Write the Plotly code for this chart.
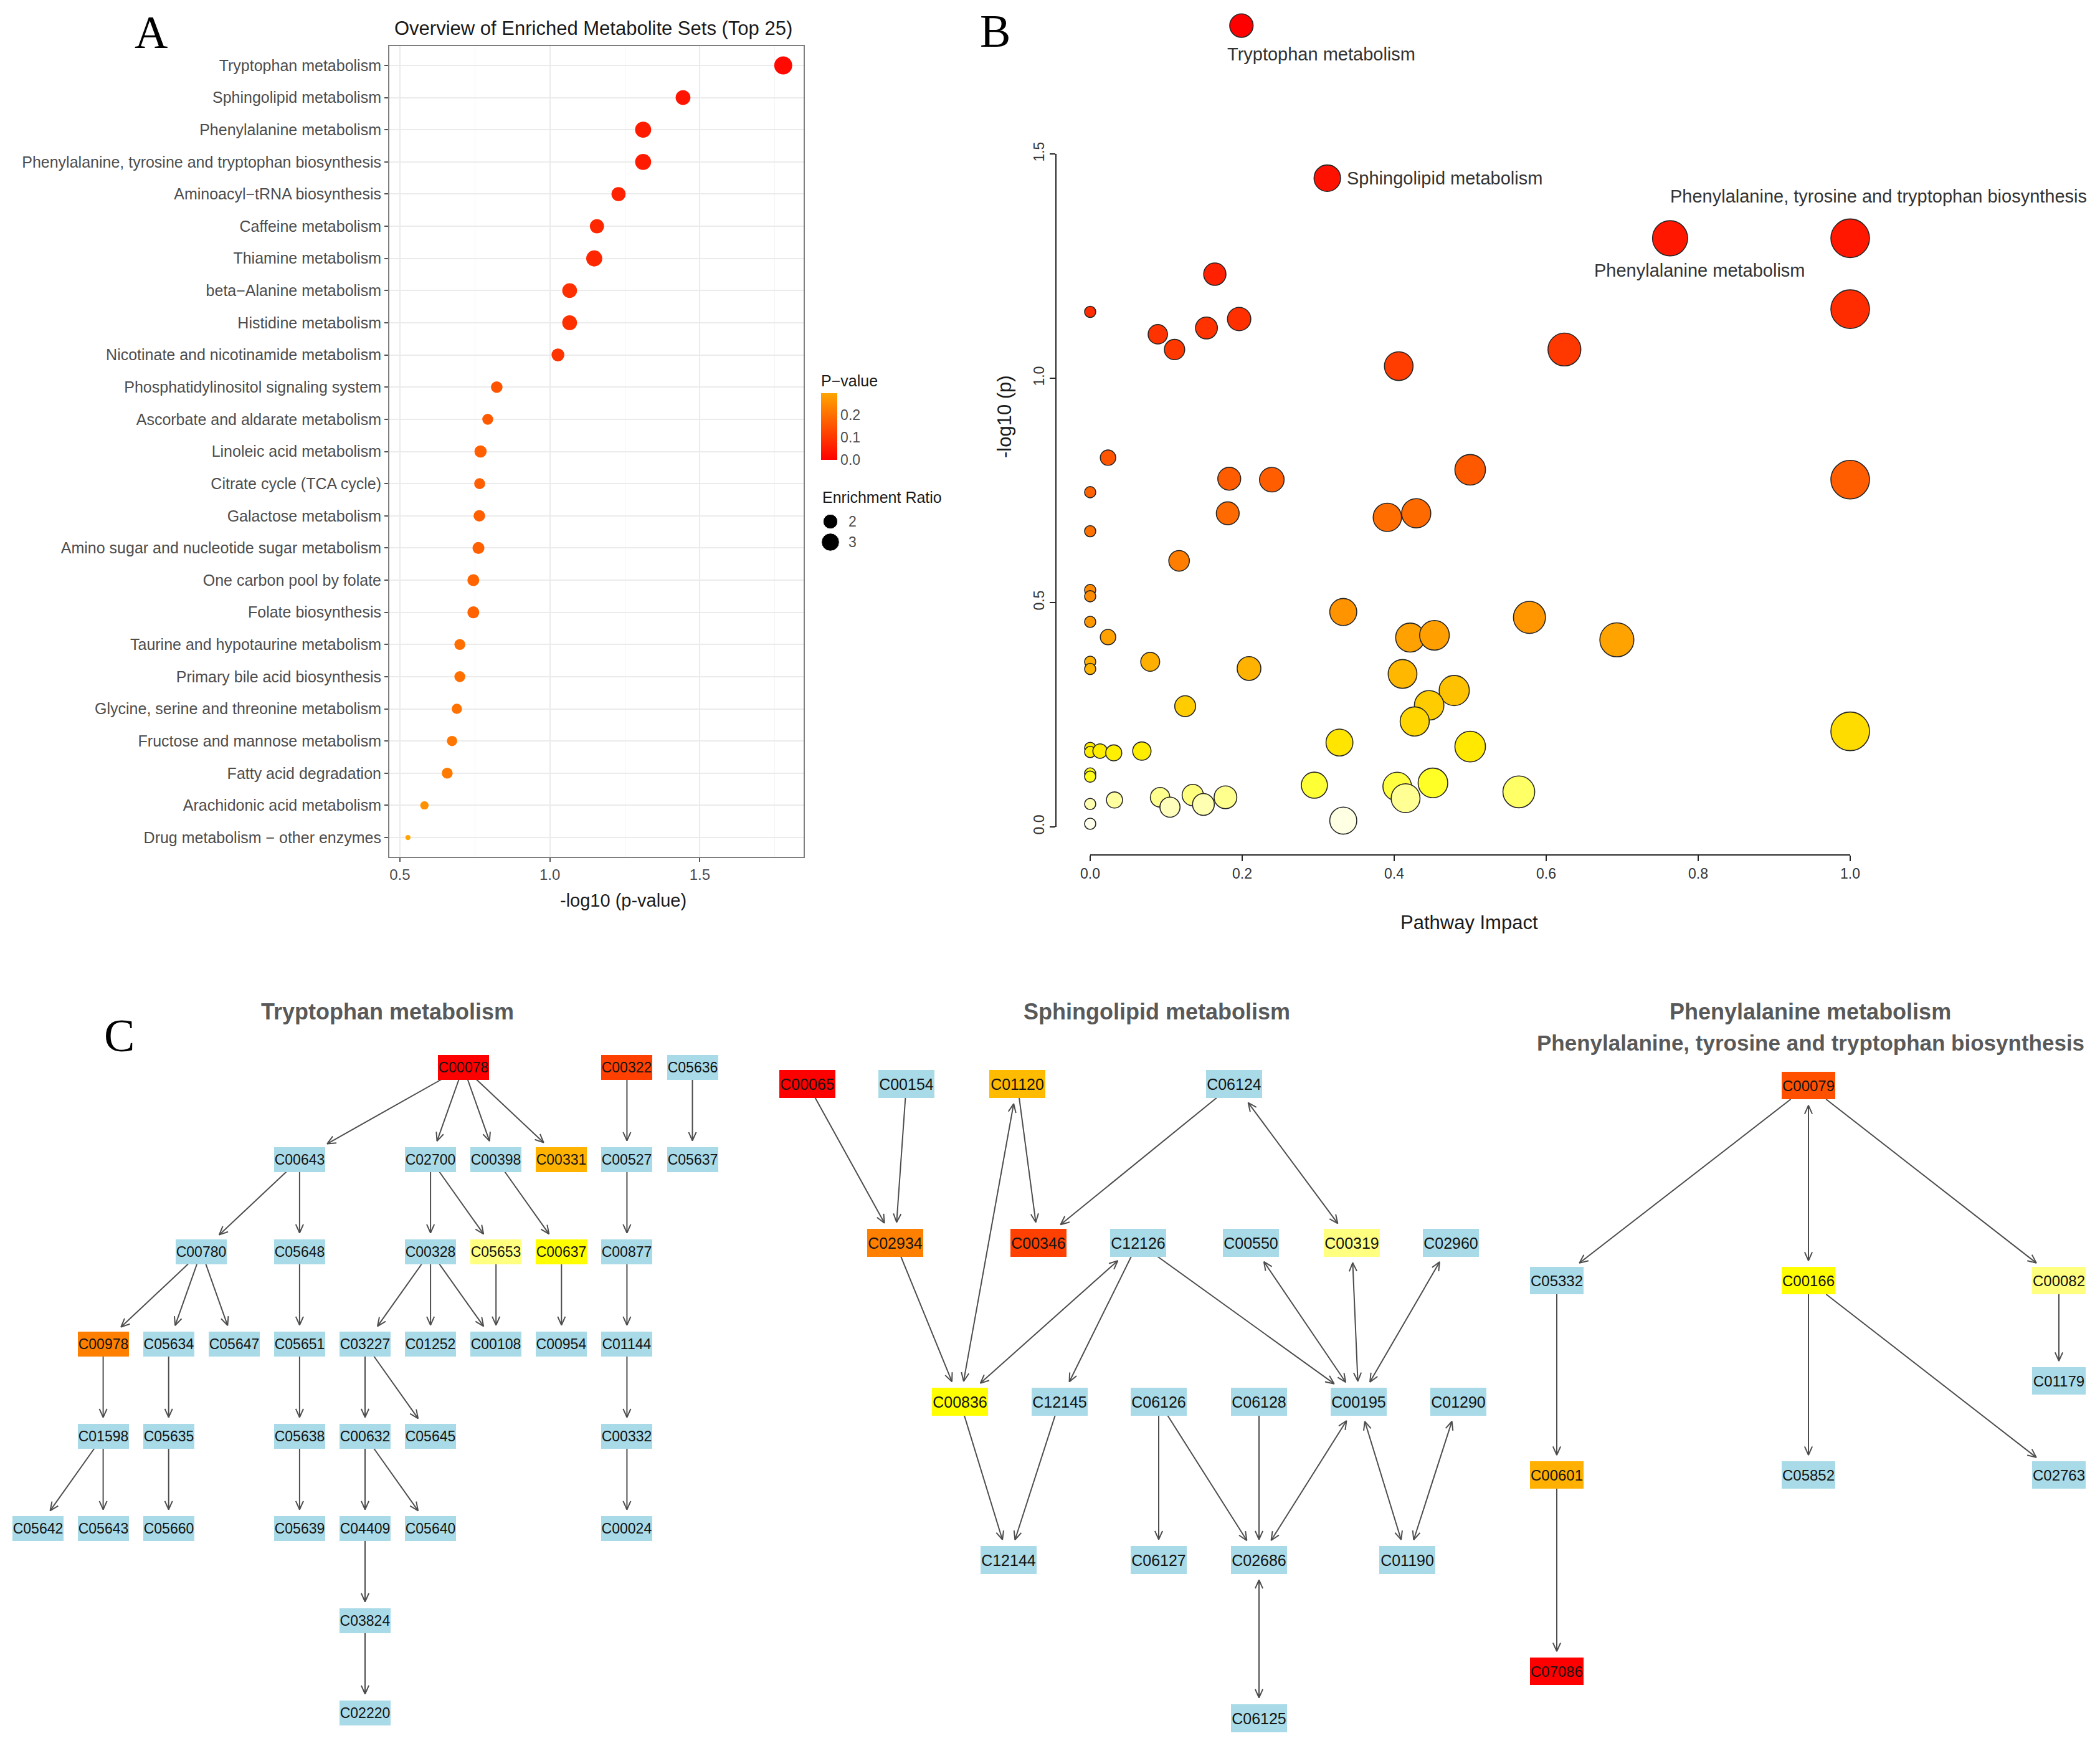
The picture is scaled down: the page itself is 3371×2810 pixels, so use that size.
import math
import plotly.graph_objects as go

W, H = 3371, 2810

# ---------------- Panel A data (enrichment overview) ----------------
setA_names = [
    "Tryptophan metabolism", "Sphingolipid metabolism", "Phenylalanine metabolism",
    "Phenylalanine, tyrosine and tryptophan biosynthesis", "Aminoacyl\u2212tRNA biosynthesis",
    "Caffeine metabolism", "Thiamine metabolism", "beta\u2212Alanine metabolism",
    "Histidine metabolism", "Nicotinate and nicotinamide metabolism",
    "Phosphatidylinositol signaling system", "Ascorbate and aldarate metabolism",
    "Linoleic acid metabolism", "Citrate cycle (TCA cycle)", "Galactose metabolism",
    "Amino sugar and nucleotide sugar metabolism", "One carbon pool by folate",
    "Folate biosynthesis", "Taurine and hypotaurine metabolism",
    "Primary bile acid biosynthesis", "Glycine, serine and threonine metabolism",
    "Fructose and mannose metabolism", "Fatty acid degradation",
    "Arachidonic acid metabolism", "Drug metabolism \u2212 other enzymes"]
setA_neglog10p = [1.778, 1.444, 1.311, 1.311, 1.229, 1.157, 1.148, 1.066, 1.066, 1.027,
                  0.823, 0.793, 0.769, 0.766, 0.765, 0.762, 0.745, 0.745, 0.700, 0.700,
                  0.690, 0.674, 0.658, 0.582, 0.527]
setA_ratio = [3.06, 2.07, 2.44, 2.44, 1.89, 1.89, 2.44, 2.07, 2.07, 1.56,
              1.27, 1.13, 1.41, 1.13, 1.27, 1.34, 1.34, 1.34, 1.13, 1.13,
              1.00, 1.00, 1.13, 0.66, 0.25]
setA_pvalue = [10 ** (-v) for v in setA_neglog10p]
legend_ratios = [2, 3]
pvalue_ticks = [0.0, 0.1, 0.2]

# ---------------- Panel B data (pathway impact) ----------------
pathB_impact = [0.199, 0.312, 0.763, 1.0, 0.164, 0.0, 0.089, 0.111, 0.153, 0.196, 0.406, 0.624, 1.0,
                0.0235, 0.183, 0.239, 0.5, 1.0, 0.0, 0.181, 0.391, 0.429, 0.0, 0.117, 0.0, 0.0,
                0.333, 0.578, 0.0, 0.0235, 0.421, 0.453, 0.693, 0.0, 0.0, 0.079, 0.209, 0.411,
                0.479, 0.125, 0.446, 0.427, 1.0, 0.328, 0.5, 0.0, 0.0, 0.013, 0.031, 0.068,
                0.0, 0.0, 0.295, 0.404, 0.451, 0.415, 0.564, 0.032, 0.092, 0.105, 0.135, 0.149,
                0.178, 0.0, 0.0, 0.333]
pathB_neglog10p = [1.786, 1.446, 1.312, 1.312, 1.232, 1.148, 1.098, 1.064, 1.112, 1.132, 1.027, 1.064, 1.154,
                   0.823, 0.776, 0.774, 0.796, 0.774, 0.746, 0.699, 0.690, 0.699, 0.659, 0.593, 0.528, 0.514,
                   0.479, 0.467, 0.457, 0.423, 0.422, 0.427, 0.417, 0.368, 0.352, 0.368, 0.353, 0.341,
                   0.304, 0.269, 0.271, 0.235, 0.213, 0.188, 0.179, 0.176, 0.167, 0.169, 0.165, 0.169,
                   0.119, 0.112, 0.093, 0.090, 0.098, 0.064, 0.078, 0.060, 0.066, 0.044, 0.071, 0.050,
                   0.066, 0.051, 0.007, 0.014]
pathB_labels = {0: "Tryptophan metabolism", 1: "Sphingolipid metabolism",
                2: "Phenylalanine metabolism", 3: "Phenylalanine, tyrosine and tryptophan biosynthesis"}
pathB_xticks = [0.0, 0.2, 0.4, 0.6, 0.8, 1.0]
pathB_yticks = [0.0, 0.5, 1.0, 1.5]

# ---------------- Panel C data (networks) ----------------
trp_edges = [("C00078", "C00643", 0), ("C00078", "C02700", 0), ("C00078", "C00398", 0),
             ("C00078", "C00331", 0), ("C00322", "C00527", 0), ("C05636", "C05637", 0),
             ("C00643", "C00780", 0), ("C00643", "C05648", 0), ("C02700", "C00328", 0),
             ("C02700", "C05653", 0), ("C00398", "C00637", 0), ("C00527", "C00877", 0),
             ("C00780", "C00978", 0), ("C00780", "C05634", 0), ("C00780", "C05647", 0),
             ("C05648", "C05651", 0), ("C00328", "C03227", 0), ("C00328", "C01252", 0),
             ("C00328", "C00108", 0), ("C05653", "C00108", 0), ("C00637", "C00954", 0),
             ("C00877", "C01144", 0), ("C00978", "C01598", 0), ("C05634", "C05635", 0),
             ("C05651", "C05638", 0), ("C03227", "C00632", 0), ("C03227", "C05645", 0),
             ("C01144", "C00332", 0), ("C01598", "C05642", 0), ("C01598", "C05643", 0),
             ("C05635", "C05660", 0), ("C05638", "C05639", 0), ("C00632", "C04409", 0),
             ("C00632", "C05640", 0), ("C00332", "C00024", 0), ("C04409", "C03824", 0),
             ("C03824", "C02220", 0)]
sph_edges = [("C00065", "C02934", 0), ("C00154", "C02934", 0), ("C01120", "C00346", 0),
             ("C00836", "C01120", 1), ("C06124", "C00346", 0), ("C06124", "C00319", 1),
             ("C12126", "C00836", 1), ("C12126", "C12145", 0), ("C12126", "C00195", 0),
             ("C00550", "C00195", 1), ("C00319", "C00195", 1), ("C02960", "C00195", 1),
             ("C02934", "C00836", 0), ("C00836", "C12144", 0), ("C12145", "C12144", 0),
             ("C06126", "C06127", 0), ("C06126", "C02686", 0), ("C06128", "C02686", 0),
             ("C00195", "C02686", 1), ("C00195", "C01190", 1), ("C01290", "C01190", 1),
             ("C02686", "C06125", 1)]
phe_edges = [("C00079", "C05332", 0), ("C00079", "C00166", 1), ("C00079", "C00082", 0),
             ("C05332", "C00601", 0), ("C00601", "C07086", 0), ("C00166", "C05852", 0),
             ("C00166", "C02763", 0), ("C00082", "C01179", 0)]
hit_fill = {"C00078": "#FF0000", "C00322": "#FF4000", "C00331": "#FFB300", "C05653": "#FFFF80",
            "C00637": "#FFFF00", "C00978": "#FF7F00",
            "C00065": "#FF0000", "C01120": "#FFBB00", "C02934": "#FF7F00", "C00346": "#FF4000",
            "C00319": "#FFFF80", "C00836": "#FFFF00",
            "C00079": "#FF5000", "C00166": "#FFFF00", "C00082": "#FFFF80", "C00601": "#FFB000",
            "C07086": "#FF0000"}

# ---------------- layout (positions in page pixels) ----------------
trp_grid = {"C00078": (6.5, 0), "C00322": (9, 0), "C05636": (10, 0),
            "C00643": (4, 1), "C02700": (6, 1), "C00398": (7, 1), "C00331": (8, 1), "C00527": (9, 1), "C05637": (10, 1),
            "C00780": (2.5, 2), "C05648": (4, 2), "C00328": (6, 2), "C05653": (7, 2), "C00637": (8, 2), "C00877": (9, 2),
            "C00978": (1, 3), "C05634": (2, 3), "C05647": (3, 3), "C05651": (4, 3), "C03227": (5, 3), "C01252": (6, 3),
            "C00108": (7, 3), "C00954": (8, 3), "C01144": (9, 3),
            "C01598": (1, 4), "C05635": (2, 4), "C05638": (4, 4), "C00632": (5, 4), "C05645": (6, 4), "C00332": (9, 4),
            "C05642": (0, 5), "C05643": (1, 5), "C05660": (2, 5), "C05639": (4, 5), "C04409": (5, 5), "C05640": (6, 5),
            "C00024": (9, 5), "C03824": (5, 6), "C02220": (5, 7)}
trp_pos = {k: (60.5 + 105.1 * c, 1712.5 + 148 * r) for k, (c, r) in trp_grid.items()}
sph_pos = {"C00065": (1296, 1739), "C00154": (1455, 1739), "C01120": (1633, 1739), "C06124": (1981, 1739),
           "C02934": (1437, 1994), "C00346": (1667, 1994), "C12126": (1827, 1994), "C00550": (2008, 1994),
           "C00319": (2170, 1994), "C02960": (2329, 1994),
           "C00836": (1541, 2249), "C12145": (1701, 2249), "C06126": (1860, 2249), "C06128": (2021, 2249),
           "C00195": (2181, 2249), "C01290": (2341, 2249),
           "C12144": (1619, 2503), "C06127": (1860, 2503), "C02686": (2021, 2503), "C01190": (2259, 2503),
           "C06125": (2021, 2757)}
phe_pos = {"C00079": (2903, 1742), "C05332": (2499, 2055), "C00166": (2903, 2055), "C00082": (3305, 2055),
           "C01179": (3305, 2216), "C00601": (2499, 2367), "C05852": (2903, 2367), "C02763": (3305, 2367),
           "C07086": (2499, 2682)}
NODE_BLUE = "#A8DAE7"
FONT = "Liberation Sans, Arial, sans-serif"
SERIF = "Liberation Serif, Times New Roman, serif"


def px(x):
    return x / W


def py(y):
    return 1 - y / H


fig = go.Figure()

# ---- Panel A ----
fig.add_trace(go.Scatter(
    x=setA_neglog10p, y=setA_names, mode="markers", xaxis="x", yaxis="y",
    cliponaxis=False, hoverinfo="skip",
    marker=dict(size=setA_ratio, sizemode="area", sizeref=2 / 16.5 ** 2, opacity=1,
                color=setA_pvalue, colorscale=[[0, "#FF0000"], [1, "#FFA500"]],
                cmin=0, cmax=max(setA_pvalue), line=dict(width=0),
                colorbar=dict(x=px(1318), xanchor="left", xpad=0, y=py(668), yanchor="middle", ypad=0,
                              len=140, lenmode="pixels", thickness=26, thicknessmode="pixels",
                              outlinewidth=0, ticks="", tickvals=pvalue_ticks,
                              ticktext=["%.1f" % v for v in pvalue_ticks],
                              tickfont=dict(size=23, color="#4D4D4D"),
                              title=dict(text="P\u2212value", side="top", font=dict(size=25, color="#1A1A1A"))))))

# size legend dots (panel A)
fig.add_trace(go.Scatter(
    x=[1333, 1333], y=[837, 870], mode="markers", xaxis="x4", yaxis="y4", hoverinfo="skip",
    marker=dict(size=legend_ratios, sizemode="area", sizeref=2 / 16.5 ** 2, color="black", opacity=1)))

# ---- Panel B ----
heat_pts = [(0.0, "#FFFFF2"), (0.03, "#FFFFD2"), (0.06, "#FFFFA0"), (0.10, "#FFFF20"), (0.15, "#FFF500"),
            (0.20, "#FFE000"), (0.27, "#FFCC00"), (0.35, "#FFB400"), (0.45, "#FF9A00"), (0.55, "#FF8400"),
            (0.70, "#FF6A00"), (0.80, "#FF5800"), (1.05, "#FF3A00"), (1.30, "#FF1800"), (1.79, "#FF0000")]
heat_scale = [[v / 1.79, c] for v, c in heat_pts]
fig.add_trace(go.Scatter(
    x=pathB_impact, y=pathB_neglog10p, mode="markers", xaxis="x2", yaxis="y2",
    cliponaxis=False, hoverinfo="skip",
    marker=dict(size=[18 + 44 * math.sqrt(v) for v in pathB_impact], sizemode="diameter", opacity=1,
                color=pathB_neglog10p, colorscale=heat_scale, cmin=0, cmax=1.79, showscale=False,
                line=dict(color="#262626", width=1.6))))

# ---- Panel C networks ----
annotations = []


def draw_network(pos, edges, bw, bh, fs, gap=10, head_len=15, head_ang=math.radians(24)):
    xs, ys = [], []
    for a, b, both in edges:
        x1, y1 = pos[a]
        x2, y2 = pos[b]
        dx, dy = x2 - x1, y2 - y1
        L = math.hypot(dx, dy)
        ux, uy = dx / L, dy / L
        tx = (bw / 2) / abs(ux) if abs(ux) > 1e-9 else 1e9
        ty = (bh / 2) / abs(uy) if abs(uy) > 1e-9 else 1e9
        t = min(tx, ty)
        s0 = t + (gap if both else 0)
        sx, sy = x1 + ux * s0, y1 + uy * s0
        ex, ey = x2 - ux * (t + gap), y2 - uy * (t + gap)
        xs += [sx, ex, None]
        ys += [sy, ey, None]
        heads = [(ex, ey, ux, uy)]
        if both:
            heads.append((sx, sy, -ux, -uy))
        for hx, hy, vx, vy in heads:
            pts = []
            for s in (1, -1):
                an = s * head_ang
                wx = -(vx * math.cos(an) - vy * math.sin(an))
                wy = -(vx * math.sin(an) + vy * math.cos(an))
                pts.append((hx + wx * head_len, hy + wy * head_len))
            xs += [pts[0][0], hx, pts[1][0], None]
            ys += [pts[0][1], hy, pts[1][1], None]
    fig.add_trace(go.Scatter(x=xs, y=ys, mode="lines", xaxis="x4", yaxis="y4", hoverinfo="skip",
                             line=dict(color="#4D4D4D", width=2)))
    for nid, (x, y) in pos.items():
        annotations.append(dict(x=x, y=y, xref="x4", yref="y4", text=nid, showarrow=False,
                                bgcolor=hit_fill.get(nid, NODE_BLUE), width=bw, height=bh,
                                borderpad=0, borderwidth=0, align="center", valign="middle",
                                font=dict(size=fs, color="#141414", family=FONT)))


draw_network(trp_pos, trp_edges, 82, 40, 23)
draw_network(sph_pos, sph_edges, 90, 45, 25)
draw_network(phe_pos, phe_edges, 86, 44, 24)


# ---- Text annotations ----
def ptext(x, y, text, size, color="#1A1A1A", family=FONT, anchor="center", angle=0, bold=False):
    annotations.append(dict(x=px(x), y=py(y), xref="paper", yref="paper",
                            text=("<b>%s</b>" % text) if bold else text,
                            showarrow=False, xanchor=anchor, yanchor="middle", textangle=angle,
                            font=dict(size=size, color=color, family=family)))


ptext(242, 52, "A", 74, "black", SERIF)
ptext(1597, 50, "B", 74, "black", SERIF)
ptext(191, 1662, "C", 74, "black", SERIF)
ptext(952, 45, "Overview of Enriched Metabolite Sets (Top 25)", 31)
ptext(1000, 1445, "-log10 (p-value)", 29)
ptext(1318, 798, "Enrichment Ratio", 25, anchor="left")
for r, yy in zip(legend_ratios, [837, 870]):
    annotations.append(dict(x=1360, y=yy, xref="x4", yref="y4", text=str(r), showarrow=False,
                            xanchor="left", font=dict(size=23, color="#4D4D4D", family=FONT)))
ptext(1612, 669, "-log10 (p)", 31, "#1A1A1A", angle=-90)
ptext(2358, 1480, "Pathway Impact", 31)
ptext(622, 1623, "Tryptophan metabolism", 36, "#595959", bold=True)
ptext(1857, 1623, "Sphingolipid metabolism", 36, "#595959", bold=True)
ptext(2906, 1623, "Phenylalanine metabolism", 36, "#595959", bold=True)
ptext(2906, 1673, "Phenylalanine, tyrosine and tryptophan biosynthesis", 35, "#595959", bold=True)

label_style = {0: dict(xanchor="left", xshift=-25, yshift=-46),
               1: dict(xanchor="left", xshift=29, yshift=0),
               2: dict(xanchor="center", xshift=48, yshift=-52),
               3: dict(xanchor="right", xshift=382, yshift=67)}
for i, txt in pathB_labels.items():
    annotations.append(dict(x=pathB_impact[i], y=pathB_neglog10p[i], xref="x2", yref="y2", text=txt,
                            showarrow=False, yanchor="middle", font=dict(size=29, color="#333333", family=FONT),
                            **label_style[i]))

# R-style axis lines for panel B (span only tick range)
shapes = [
    dict(type="line", xref="x2", yref="y2 domain", x0=pathB_xticks[0], x1=pathB_xticks[-1], y0=0, y1=0,
         line=dict(color="#262626", width=2)),
    dict(type="line", xref="x2 domain", yref="y2", x0=0, x1=0, y0=pathB_yticks[0], y1=pathB_yticks[-1],
         line=dict(color="#262626", width=2)),
]

fig.update_layout(
    width=W, height=H, margin=dict(l=0, r=0, t=0, b=0), template="none",
    paper_bgcolor="white", plot_bgcolor="rgba(0,0,0,0)", showlegend=False,
    font=dict(family=FONT, color="#1A1A1A"),
    annotations=annotations, shapes=shapes,
    xaxis=dict(domain=[px(625), px(1290)], anchor="y", range=[0.465, 1.846],
               tickvals=[0.5, 1.0, 1.5], ticktext=["0.5", "1.0", "1.5"],
               ticks="outside", ticklen=6, tickwidth=1.5, tickcolor="#555555",
               tickfont=dict(size=24, color="#4D4D4D"),
               showgrid=True, gridcolor="#EBEBEB", gridwidth=2,
               minor=dict(tickvals=[0.75, 1.25, 1.75], showgrid=True, gridcolor="#F4F4F4", gridwidth=1),
               showline=True, mirror=True, linecolor="#7F7F7F", linewidth=2, zeroline=False,
               automargin=False, fixedrange=True),
    yaxis=dict(domain=[py(1375), py(74)], anchor="x", type="category",
               categoryorder="array", categoryarray=setA_names, range=[24.6, -0.6],
               ticks="outside", ticklen=6, tickwidth=1.5, tickcolor="#555555",
               tickfont=dict(size=25, color="#4D4D4D"),
               showgrid=True, gridcolor="#EBEBEB", gridwidth=2,
               showline=True, mirror=True, linecolor="#7F7F7F", linewidth=2, zeroline=False,
               automargin=False, fixedrange=True),
    xaxis2=dict(domain=[px(1695), px(3060)], anchor="y2", range=[-0.04508, 1.07377],
                tickvals=pathB_xticks, ticktext=["%.1f" % v for v in pathB_xticks],
                ticks="outside", ticklen=9, tickwidth=2, tickcolor="#262626",
                tickfont=dict(size=23, color="#333333"),
                showgrid=False, zeroline=False, showline=False, automargin=False, fixedrange=True),
    yaxis2=dict(domain=[py(1372), py(20)], anchor="x2", range=[-0.0625, 1.8153],
                tickvals=pathB_yticks, ticktext=["%.1f" % v for v in pathB_yticks], tickangle=-90,
                ticks="outside", ticklen=9, tickwidth=2, tickcolor="#262626",
                tickfont=dict(size=23, color="#333333"),
                showgrid=False, zeroline=False, showline=False, automargin=False, fixedrange=True),
    xaxis4=dict(domain=[0, 1], anchor="y4", range=[0, W], visible=False, fixedrange=True),
    yaxis4=dict(domain=[0, 1], anchor="x4", range=[H, 0], visible=False, fixedrange=True),
)

fig.write_html("out.html", config={"displayModeBar": False},
               post_script="document.body.style.margin='0';document.body.style.overflow='hidden';")
